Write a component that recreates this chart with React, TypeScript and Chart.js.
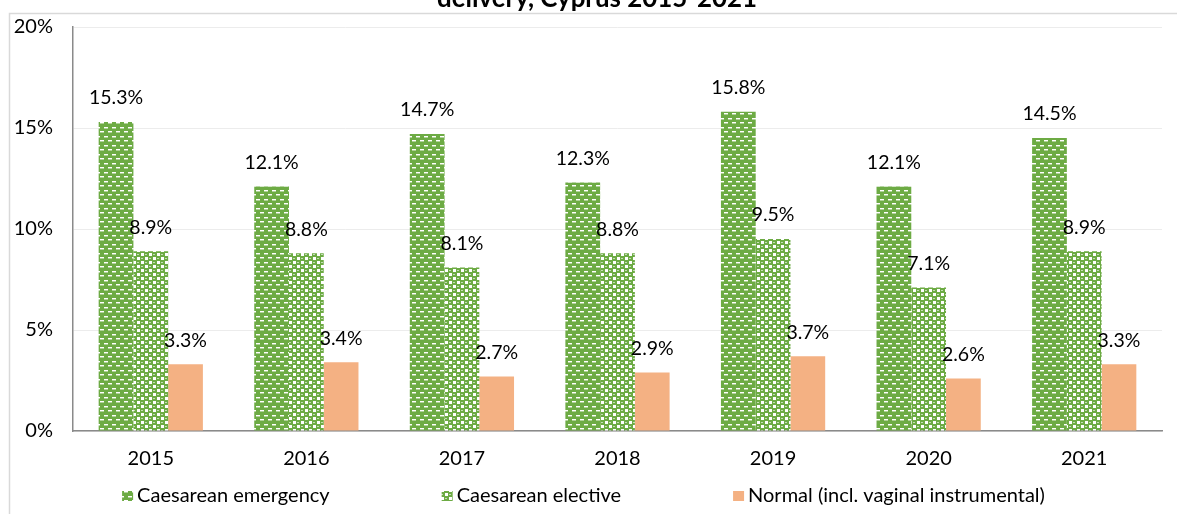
import React, { useEffect, useRef } from "react";
import { Chart, registerables } from "chart.js";

Chart.register(...registerables);

const years = ["2015", "2016", "2017", "2018", "2019", "2020", "2021"];
const emergency = [15.3, 12.1, 14.7, 12.3, 15.8, 12.1, 14.5];
const elective = [8.9, 8.8, 8.1, 8.8, 9.5, 7.1, 8.9];
const normal = [3.3, 3.4, 2.7, 2.9, 3.7, 2.6, 3.3];
const seriesNames = ["Caesarean emergency", "Caesarean elective", "Normal (incl. vaginal instrumental)"];
const titleText = "delivery, Cyprus 2015-2021";
const yTicks = [0, 5, 10, 15, 20];

const GREEN = "#6DAB44";
const ORANGE = "#F4B183";
const FONT = "Lato, 'Open Sans', sans-serif";

function makeEmergencyPattern(ctx: CanvasRenderingContext2D) {
  const c = document.createElement("canvas");
  c.width = 8;
  c.height = 9;
  const g = c.getContext("2d")!;
  g.fillStyle = GREEN;
  g.fillRect(0, 0, 8, 9);
  g.fillStyle = "#ffffff";
  g.fillRect(0, 1, 4, 1);
  g.fillRect(4, 5, 4, 1);
  g.fillStyle = "rgba(255,255,255,0.45)";
  g.fillRect(0, 2, 4, 1);
  g.fillRect(4, 6, 4, 1);
  return ctx.createPattern(c, "repeat")!;
}

function makeElectivePattern(ctx: CanvasRenderingContext2D) {
  const c = document.createElement("canvas");
  c.width = 8;
  c.height = 8;
  const g = c.getContext("2d")!;
  g.fillStyle = GREEN;
  g.fillRect(0, 0, 8, 8);
  g.fillStyle = "#ffffff";
  g.fillRect(1, 1, 3, 3);
  g.fillRect(5, 5, 3, 3);
  g.fillStyle = "rgba(255,255,255,0.6)";
  g.fillRect(5, 2, 2, 1);
  g.fillRect(1, 6, 2, 1);
  return ctx.createPattern(c, "repeat")!;
}

export default function App() {
  const canvasRef = useRef<HTMLCanvasElement | null>(null);

  useEffect(() => {
    const canvas = canvasRef.current!;
    const ctx = canvas.getContext("2d")!;
    const pEmerg = makeEmergencyPattern(ctx);
    const pElect = makeElectivePattern(ctx);
    const fills = [pEmerg, pElect, ORANGE];

    const framePlugin = {
      id: "frame",
      beforeDraw(chart: any) {
        const c = chart.ctx;
        c.save();
        c.fillStyle = "#ffffff";
        c.fillRect(0, 0, chart.width, chart.height);
        c.strokeStyle = "#d9d9d9";
        c.lineWidth = 1.5;
        c.strokeRect(9.5, 13.5, chart.width + 20, chart.height + 20);
        c.restore();
      },
      afterDraw(chart: any) {
        const c = chart.ctx;
        c.save();
        // title (cropped at top)
        let fs = 21;
        c.font = `bold ${fs}px ${FONT}`;
        const w = c.measureText(titleText).width;
        fs = fs * 320 / w;
        c.font = `bold ${fs}px ${FONT}`;
        c.fillStyle = "#000000";
        c.textAlign = "center";
        c.textBaseline = "alphabetic";
        c.fillText(titleText, 597, 7);

        // legend
        c.font = `20px ${FONT}`;
        const box = 11;
        const gapBox = 4;
        const gapItem = 112;
        const widths = seriesNames.map((n) => box + gapBox + c.measureText(n).width);
        const total = widths.reduce((a, b) => a + b, 0) + gapItem * (widths.length - 1);
        let x = chart.width / 2 - 5 - total / 2;
        const cy = 496;
        c.textAlign = "left";
        c.textBaseline = "middle";
        seriesNames.forEach((n, i) => {
          c.fillStyle = fills[i] as any;
          c.fillRect(x, cy - 5, box, 10);
          c.fillStyle = "#000000";
          c.fillText(n, x + box + gapBox, cy);
          x += widths[i] + gapItem;
        });
        c.restore();
      },
    };

    const labelPlugin = {
      id: "valueLabels",
      afterDatasetsDraw(chart: any) {
        const c = chart.ctx;
        c.save();
        c.font = `19.5px ${FONT}`;
        c.fillStyle = "#000000";
        c.textAlign = "center";
        c.textBaseline = "middle";
        chart.data.datasets.forEach((ds: any, di: number) => {
          const meta = chart.getDatasetMeta(di);
          meta.data.forEach((bar: any, i: number) => {
            const v = ds.data[i];
            c.fillText(`${v.toFixed(1)}%`, bar.x, bar.y - 24);
          });
        });
        c.restore();
      },
    };

    const chart = new Chart(canvas, {
      type: "bar",
      data: {
        labels: years,
        datasets: [
          { label: seriesNames[0], data: emergency, backgroundColor: pEmerg as any },
          { label: seriesNames[1], data: elective, backgroundColor: pElect as any },
          { label: seriesNames[2], data: normal, backgroundColor: ORANGE },
        ],
      },
      options: {
        animation: false,
        responsive: false,
        devicePixelRatio: 1,
        layout: { padding: { left: 9, right: 15, top: 27, bottom: 39 } },
        datasets: { bar: { categoryPercentage: 0.67, barPercentage: 1.0 } },
        plugins: {
          legend: { display: false },
          title: { display: false },
          tooltip: { enabled: false },
        },
        scales: {
          x: {
            grid: { display: true, drawOnChartArea: false, drawTicks: false },
            border: { display: true, color: "#8a8a8a", width: 1.5 },
            ticks: { color: "#000000", font: { family: FONT, size: 20 }, padding: 16 },
            afterFit: (s: any) => { s.height = 44; s.paddingLeft = 0; s.paddingRight = 0; },
          },
          y: {
            min: 0,
            max: 20,
            afterBuildTicks: (s: any) => { s.ticks = yTicks.map((v) => ({ value: v })); },
            grid: { color: "#ececec", lineWidth: 1, drawTicks: false },
            border: { display: true, color: "#8a8a8a", width: 1.5 },
            ticks: {
              color: "#000000",
              font: { family: FONT, size: 20 },
              padding: 20,
              callback: (v: any) => `${v}%`,
            },
            afterFit: (s: any) => { s.width = 64; s.paddingTop = 0; s.paddingBottom = 0; },
          },
        },
      },
      plugins: [framePlugin, labelPlugin],
    });
    return () => chart.destroy();
  }, []);

  return (
    <div style={{ position: "absolute", left: 0, top: 0, width: 1177, height: 514 }}>
      <canvas ref={canvasRef} width={1177} height={514} />
    </div>
  );
}
